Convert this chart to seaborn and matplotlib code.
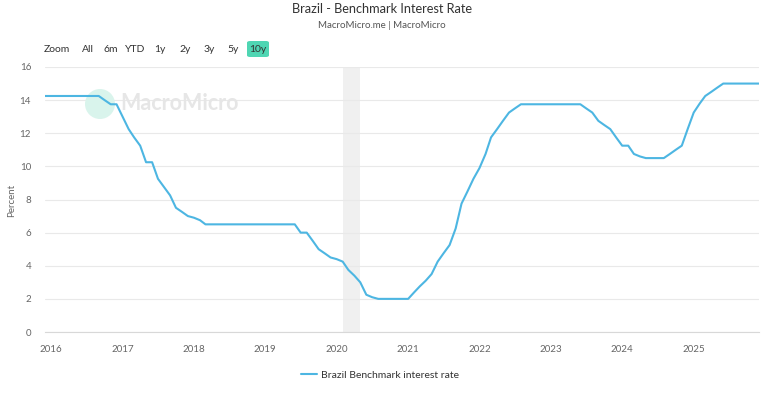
import numpy as np
import pandas as pd
import matplotlib
matplotlib.use("Agg")
import matplotlib.pyplot as plt
from matplotlib.patches import Ellipse, FancyBboxPatch
import seaborn as sns

# ---- data (monthly) ----
start_month = "2015-12-01"
rate = (
    [14.25]
    + [14.25] * 9 + [14.0, 13.75, 13.75]                                   # 2016
    + [13.0, 12.25, 11.75, 11.25, 10.25, 10.25, 9.25, 8.75, 8.25, 7.5, 7.25, 7.0]  # 2017
    + [6.9, 6.75] + [6.5] * 10                                             # 2018
    + [6.5] * 6 + [6.0, 6.0, 5.5, 5.0, 4.75, 4.5]                          # 2019
    + [4.4, 4.25, 3.75, 3.4, 3.0, 2.25, 2.1, 2.0, 2.0, 2.0, 2.0, 2.0]      # 2020
    + [2.0, 2.4, 2.75, 3.1, 3.5, 4.25, 4.75, 5.25, 6.25, 7.75, 8.5, 9.25]  # 2021
    + [9.9, 10.75, 11.75, 12.25, 12.75, 13.25, 13.5] + [13.75] * 5         # 2022
    + [13.75] * 6 + [13.5, 13.25, 12.75, 12.5, 12.25, 11.75]               # 2023
    + [11.25, 11.25, 10.75, 10.6, 10.5, 10.5, 10.5, 10.5, 10.75, 11.0, 11.25, 12.25]  # 2024
    + [13.25, 13.8, 14.25, 14.5, 14.75] + [15.0] * 7                       # 2025
)
dates = pd.date_range(start_month, periods=len(rate), freq="MS")
series_name = "Brazil Benchmark interest rate"
recession = ("2020-02-01", "2020-05-01")
y_ticks = [0, 2, 4, 6, 8, 10, 12, 14, 16]
year_ticks = list(range(2016, 2026))
buttons = ["Zoom", "All", "6m", "YTD", "1y", "2y", "3y", "5y", "10y"]

df = pd.DataFrame({"date": dates, "value": rate, "series": series_name})

sns.set_style("white")
plt.rcParams["font.family"] = ["Lato", "DejaVu Sans"]

W, H = 777, 395
fig = plt.figure(figsize=(W / 100, H / 100), dpi=100)
ax = fig.add_axes([45 / W, 1 - 332 / H, (759 - 45) / W, (332 - 67) / H])

line_color = "#4db6e2"
ax.axvspan(pd.Timestamp(recession[0]), pd.Timestamp(recession[1]),
           color="#f0f0f0", zorder=0, lw=0)
sns.lineplot(data=df, x="date", y="value", ax=ax, color=line_color,
             linewidth=1.5, legend=False, zorder=3)

ax.set_ylim(0, 16)
ax.set_xlim(pd.Timestamp("2015-12-01"), pd.Timestamp("2025-12-01"))
ax.set_yticks(y_ticks)
ax.set_yticklabels([str(v) for v in y_ticks], fontsize=7, color="#666666")
ax.set_xticks([pd.Timestamp(f"{y}-01-01") for y in year_ticks])
ax.set_xticklabels([str(y) for y in year_ticks], fontsize=7, color="#666666")
ax.tick_params(axis="y", length=0, pad=10)
ax.tick_params(axis="x", length=5, width=0.8, color="#d8d8d8", pad=4)
ax.grid(axis="y", color="#e9e9e9", linewidth=0.8)
ax.grid(axis="x", visible=False)
for s in ["top", "right", "left"]:
    ax.spines[s].set_visible(False)
ax.spines["bottom"].set_color("#d8d8d8")
ax.spines["bottom"].set_linewidth(0.8)
ax.set_xlabel("")
ax.set_ylabel("")
fig.text(12 / W, 1 - 200 / H, "Percent", rotation=90, ha="center", va="center",
         fontsize=7, color="#666666")

# watermark (behind the line)
ax.add_patch(Ellipse((100 / W, 1 - 104 / H), 30 / W, 30 / H, transform=fig.transFigure,
                     facecolor="#d9f4ec", edgecolor="none", zorder=1, clip_on=False))
ax.text(179 / W, 1 - 104 / H, "MacroMicro", ha="center", va="center",
        fontsize=15.5, color="#e6e6e6", fontweight="bold", transform=fig.transFigure,
        zorder=1)

# title & subtitle
fig.text(382 / W, 1 - 9 / H, "Brazil - Benchmark Interest Rate", ha="center",
         va="center", fontsize=9.2, color="#333333")
fig.text(382 / W, 1 - 25 / H, "MacroMicro.me | MacroMicro", ha="center",
         va="center", fontsize=7, color="#555555")

# range buttons
btn_x = [57, 88, 111, 135, 160, 185, 209, 233, 258]
for lbl, bx in zip(buttons, btn_x):
    if lbl == "10y":
        fig.patches.append(FancyBboxPatch((247 / W, 1 - 57 / H), 22 / W, 16 / H,
                                          boxstyle="round,pad=0,rounding_size=0.004",
                                          transform=fig.transFigure,
                                          facecolor="#4fd6b3", edgecolor="none"))
    fig.text(bx / W, 1 - 49 / H, lbl, ha="center", va="center", fontsize=7.5,
             color="#333333")

# legend
handle = plt.Line2D([], [], color=line_color, linewidth=1.5)
fig.legend([handle], [series_name], loc="center", bbox_to_anchor=(380 / W, 1 - 375 / H),
           frameon=False, fontsize=7.5, handlelength=1.6, handletextpad=0.4,
           labelcolor="#333333")

fig.savefig("out.png", dpi=100)
